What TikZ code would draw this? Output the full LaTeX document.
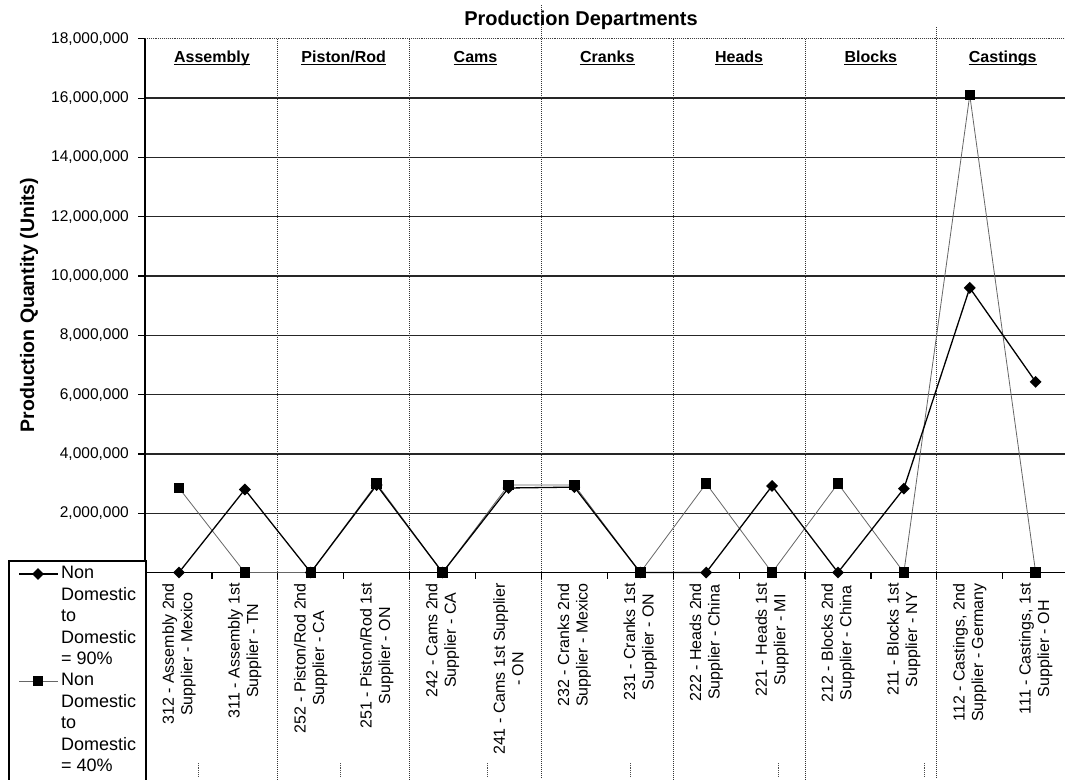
\documentclass[tikz,border=0pt]{standalone}
\usepackage{fontspec}
\setmainfont{Liberation Sans}
\usetikzlibrary{shapes.geometric}
\begin{document}
\begin{tikzpicture}[x=1pt,y=-1pt,
 gridline/.style={line width=1.4pt, black!85},
 topline/.style={line width=0.9pt, densely dotted, black!75},
 divider/.style={line width=1pt, densely dotted, black!80},
 axisline/.style={line width=1.8pt, black},
 s1line/.style={line width=1.3pt, black},
 s2line/.style={line width=0.8pt, black!60},
 dmark/.style={diamond, fill=black, inner sep=0pt, minimum width=12pt, minimum height=12pt},
 smark/.style={rectangle, fill=black, inner sep=0pt, minimum size=10.5pt},
 ticklab/.style={anchor=east, inner sep=0pt, font=\fontsize{15.5}{18}\selectfont},
 catlab/.style={rotate=90, anchor=east, align=center, inner sep=0pt, font=\fontsize{16}{18.5}\selectfont},
 deptlab/.style={anchor=base, inner sep=0pt, font=\bfseries\fontsize{16}{19}\selectfont},
 legtext/.style={anchor=north west, align=left, inner sep=0pt, font=\fontsize{18}{21.5}\selectfont},
 stub/.style={line width=0.8pt, densely dotted, black!70}]
\useasboundingbox (0,0) rectangle (1065,779);
\clip (0,0) rectangle (1065,779);

% gridlines
\foreach \v in {2,4,...,16} {
  \draw[gridline] (145,{572.5-29.65*\v}) -- (1065,{572.5-29.65*\v});
}
\draw[topline] (145,38.8) -- (1065,38.8);

% department dividers
\foreach \k in {1,2,4,5} {
  \draw[divider] ({146+131.8*\k},38.8) -- ({146+131.8*\k},779);
}
\draw[divider] ({146+131.8*3},5) -- ({146+131.8*3},779);
\draw[divider] ({146+131.8*6},27) -- ({146+131.8*6},779);

% axes and ticks
\draw[axisline] (145,572.5) -- (1065,572.5);
\draw[axisline] (145,38.8) -- (145,572.5);
\foreach \v in {0,2,...,18} {
  \draw[line width=1.2pt] (138,{572.5-29.65*\v}) -- (145,{572.5-29.65*\v});
}
\foreach \j in {1,...,13} {
  \draw[line width=1.2pt] ({146+65.9*\j},572.5) -- ({146+65.9*\j},579);
}

% y tick labels
\foreach \v/\t in {2/{2,000,000},4/{4,000,000},6/{6,000,000},8/{8,000,000},10/{10,000,000},12/{12,000,000},14/{14,000,000},16/{16,000,000},18/{18,000,000}} {
  \node[ticklab] (yl\v) at (129,{572.5-29.65*\v}) {\t};
}

% data coordinates
\foreach \v [count=\i from 0] in {0,2.8,0,2.95,0,2.85,2.88,0,0,2.92,0,2.83,9.6,6.43} {
  \coordinate (a\i) at ({146+65.9*(\i+0.5)},{572.5-29.65*\v});
}
\foreach \v [count=\i from 0] in {2.85,0,0,3.0,0,2.95,2.95,0,3.0,0,3.0,0,16.1,0} {
  \coordinate (b\i) at ({146+65.9*(\i+0.5)},{572.5-29.65*\v});
}

% series 2 (squares)
\draw[s2line] (b0) \foreach \i in {1,...,13} { -- (b\i) };
% series 1 (diamonds)
\draw[s1line] (a0) \foreach \i in {1,...,13} { -- (a\i) };
\foreach \i in {0,...,13} { \node[dmark] (da\i) at (a\i) {}; }
\foreach \i in {0,...,13} { \node[smark] (sb\i) at (b\i) {}; }

% category labels
\foreach \t [count=\i from 0] in {
  {312 - Assembly 2nd\\Supplier - Mexico},
  {311 - Assembly 1st\\Supplier - TN},
  {252 - Piston/Rod 2nd\\Supplier - CA},
  {251 - Piston/Rod 1st\\Supplier - ON},
  {242 - Cams 2nd\\Supplier - CA},
  {241 - Cams 1st Supplier\\- ON},
  {232 - Cranks 2nd\\Supplier - Mexico},
  {231 - Cranks 1st\\Supplier - ON},
  {222 - Heads 2nd\\Supplier - China},
  {221 - Heads 1st\\Supplier - MI},
  {212 - Blocks 2nd\\Supplier - China},
  {211 - Blocks 1st\\Supplier - NY},
  {112 - Castings, 2nd\\Supplier - Germany},
  {111 - Castings, 1st\\Supplier - OH}} {
  \node[catlab] (cl\i) at ({146+65.9*(\i+0.5)},583) {\t};
}

% small dotted stubs at bottom
\foreach \x in {198,340,487,630,778,924} {
  \draw[stub] (\x,763) -- (\x,777);
}

% department labels
\foreach \t [count=\k from 0] in {Assembly,Piston/Rod,Cams,Cranks,Heads,Blocks,Castings} {
  \node[deptlab] (dl\k) at ({146+131.8*(\k+0.5)},62) {\t};
  \draw[line width=1.3pt] ([yshift=-2.5pt]dl\k.base west) -- ([yshift=-2.5pt]dl\k.base east);
}

% titles
\node[font=\bfseries\fontsize{20}{24}\selectfont, inner sep=0pt] (title) at (581,20) {Production Departments};
\node[rotate=90, font=\bfseries\fontsize{19.5}{22}\selectfont, inner sep=0pt] (ytitle) at (29,305) {Production Quantity (Units)};

% legend
\draw[line width=1.3pt, fill=white] (9,561) rectangle (146,800);
\coordinate (l1a) at (19,574);
\coordinate (l1b) at (58,574);
\draw[s1line] (l1a) -- (l1b);
\node[dmark] (lm1) at (38,574) {};
\coordinate (l2a) at (19,681);
\coordinate (l2b) at (58,681);
\draw[s2line] (l2a) -- (l2b);
\node[smark] (lm2) at (38,681) {};
\node[legtext] (lt1) at (61,566) {Non\\Domestic\\to\\Domestic\\= 90\%};
\node[legtext] (lt2) at (61,673) {Non\\Domestic\\to\\Domestic\\= 40\%};
\end{tikzpicture}
\end{document}
